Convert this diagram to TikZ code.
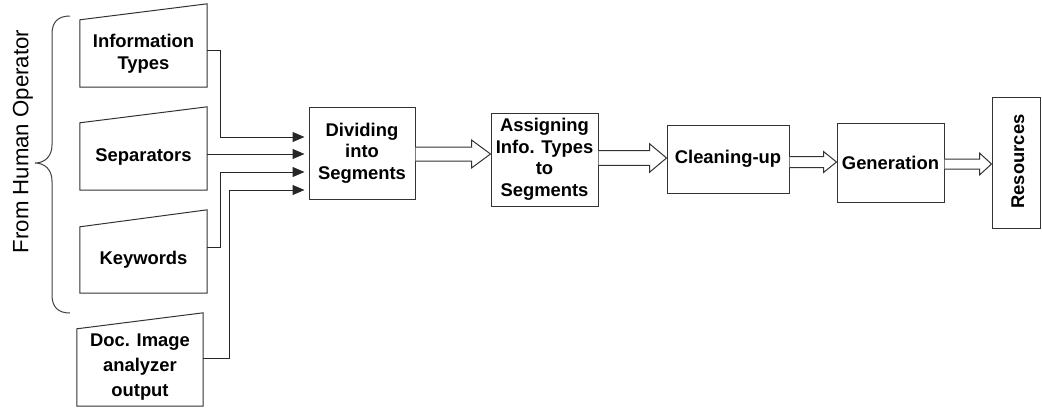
\documentclass[tikz,border=0pt]{standalone}
\usepackage{fontspec}
\setmainfont{Liberation Sans}
\usetikzlibrary{arrows.meta,calc}
\tikzset{
  lbl/.style={inner sep=0pt, align=center, font=\fontsize{18.4}{21.5}\selectfont\bfseries},
  box/.style={lbl, draw=black!80, line width=1pt},
  inbord/.style={draw=black!80, line width=1pt},
  inarr/.style={draw=black!85, line width=1pt, -{Triangle[length=12pt,width=10pt]}, shorten >=4pt},
  fatstyle/.style={draw=black!80, line width=1pt, fill=white},
  brace/.style={draw=black!75, line width=1pt}
}
% manual-input trapezoid around a node: right side raised by #2 pt
\newcommand\maninput[2]{\draw[inbord] (#1.south west) -- (#1.south east) -- ([yshift=#2pt]#1.north east) -- (#1.north west) -- cycle;}
% fat (hollow) arrow: #1 src, #2 tgt, #3 y (picture units, down), #4 shaft half, #5 head half, #6 head length
\newcommand\fatarrow[6]{%
  \path[fatstyle] let \p1=(#1.east), \p2=(#2.west) in
    (\x1,{(#4-#3)*1pt}) -- ({\x2-#6pt},{(#4-#3)*1pt}) -- ({\x2-#6pt},{(#5-#3)*1pt})
    -- (\x2,{-#3*1pt}) -- ({\x2-#6pt},{(-#5-#3)*1pt}) -- ({\x2-#6pt},{(-#4-#3)*1pt})
    -- (\x1,{(-#4-#3)*1pt});}
\begin{document}
\begin{tikzpicture}[x=1pt,y=-1pt]
\useasboundingbox (0,0) rectangle (1042,408);

% inputs
\node[lbl, minimum width=127pt, minimum height=67pt] (info) at (143.5,53.5) {Information\\Types};
\node[lbl, minimum width=127pt, minimum height=67pt] (sep) at (143.5,156.5) {Separators};
\node[lbl, minimum width=127pt, minimum height=66pt] (key) at (143.5,260) {Keywords};
\node[lbl, minimum width=126pt, minimum height=77pt, font=\fontsize{18.4}{25}\selectfont\bfseries] (doc) at (140,367.5) {Doc. Image\\analyzer\\output};
\maninput{info}{16}
\maninput{sep}{16}
\maninput{key}{17}
\maninput{doc}{16}

% brace and label
\draw[brace] (70,16) .. controls (58,16) and (52,22) .. (52,34) -- (52,145)
  .. controls (52,156) and (45,163) .. (35,163)
  .. controls (45,163) and (52,170) .. (52,181) -- (52,295)
  .. controls (52,307) and (58,313) .. (70,313);
\node[rotate=90, inner sep=0pt, font=\fontsize{22.2}{26}\selectfont] (human) at (23,141.5) {From Human Operator};

% process boxes
\node[box, minimum width=106pt, minimum height=92pt] (div) at (362,153) {Dividing\\into\\Segments};
\node[box, minimum width=107pt, minimum height=93pt] (assign) at (544.5,159.5) {Assigning\\Info. Types\\to\\Segments};
\node[box, minimum width=122pt, minimum height=68pt] (clean) at (728,159) {Cleaning-up};
\node[box, minimum width=107pt, minimum height=79pt] (gen) at (890.5,162.5) {Generation};
\node[box, minimum width=48pt, minimum height=131pt] (res) at (1016,162.5) {};
\node[lbl, rotate=90] (restext) at (1018,161.5) {Resources};

% input connectors
\draw[inarr] ([yshift=3.5pt]info.east) -- ++(13,0) |- ([yshift=16pt]div.west);
\draw[inarr] ([yshift=2.5pt]sep.east) -- ([yshift=-1pt]div.west);
\draw[inarr] ([yshift=13pt]key.east) -- ++(13,0) |- ([yshift=-19pt]div.west);
\draw[inarr] ([yshift=9.5pt]doc.east) -- ++(26,0) |- ([yshift=-37pt]div.west);

% hollow arrows
\fatarrow{div}{assign}{154}{7}{14}{19}
\fatarrow{assign}{clean}{158}{7.3}{14.3}{17}
\fatarrow{clean}{gen}{162}{5.5}{10.5}{13}
\fatarrow{gen}{res}{164}{5}{11}{12}
\end{tikzpicture}
\end{document}
